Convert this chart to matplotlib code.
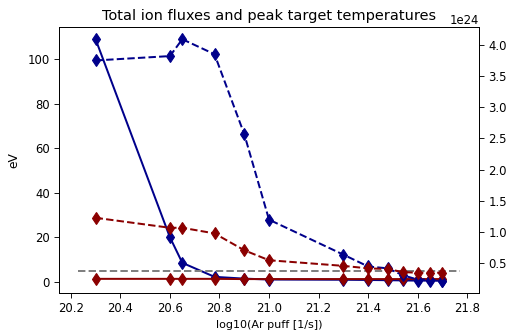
import matplotlib
matplotlib.use('Agg')
import matplotlib.pyplot as plt

# ── data ──────────────────────────────────────────────
ar_puff = [20.30, 20.60, 20.65, 20.78, 20.90, 21.00, 21.30, 21.40, 21.48, 21.54, 21.60, 21.65, 21.70]

# peak target temperatures [eV]
te_blue = [109.0, 20.0, 8.5, 2.2, 1.4, 1.0, 0.9, 0.8, 0.7, 0.6, 0.5, 0.5, 0.4]
te_red = [1.3, 1.3, 1.3, 1.3, 1.2, 1.2, 1.2, 1.2, 1.2, 1.2, 1.2, 1.2, 1.2]

# total ion fluxes [1e24 1/s]
flux_blue = [3.75, 3.82, 4.09, 3.85, 2.57, 1.20, 0.64, 0.45, 0.42, 0.31, 0.24, 0.24, 0.22]
flux_red = [1.23, 1.07, 1.07, 0.98, 0.71, 0.55, 0.46, 0.42, 0.41, 0.36, 0.35, 0.35, 0.35]

ref_x = [20.23, 21.77]
ref_te = [5.0, 5.0]

# ── style ─────────────────────────────────────────────
plt.rcParams.update({
    'xtick.major.size': 4.5,
    'ytick.major.size': 4.5,
    'xtick.major.pad': 4.0,
    'ytick.major.pad': 4.0,
    'xtick.labelsize': 10.5,
    'ytick.labelsize': 10.5,
    'lines.linewidth': 1.8,
})

# ── plot ──────────────────────────────────────────────
DPI = 80
fig, ax = plt.subplots(figsize=(510 / DPI, 331 / DPI), dpi=DPI)
fig.subplots_adjust(left=0.116, right=0.939, top=0.918, bottom=0.115)

ax.plot(ar_puff, te_blue, color='darkblue', marker='d', markersize=8)
ax.plot(ar_puff, te_red, color='darkred', marker='d', markersize=8)
ax.plot(ref_x, ref_te, color='gray', linestyle='--')
ax.set_ylabel('eV', labelpad=6, fontsize=11)
ax.set_xlabel('log10(Ar puff [1/s])')
ax.set_title('Total ion fluxes and peak target temperatures', fontsize=13)

ax2 = ax.twinx()
ax2.plot(ar_puff, [v * 1e24 for v in flux_blue], color='darkblue', marker='d',
         markersize=8, linestyle='--')
ax2.plot(ar_puff, [v * 1e24 for v in flux_red], color='darkred', marker='d',
         markersize=8, linestyle='--')

fig.savefig('out.png', dpi=DPI, facecolor='white')
